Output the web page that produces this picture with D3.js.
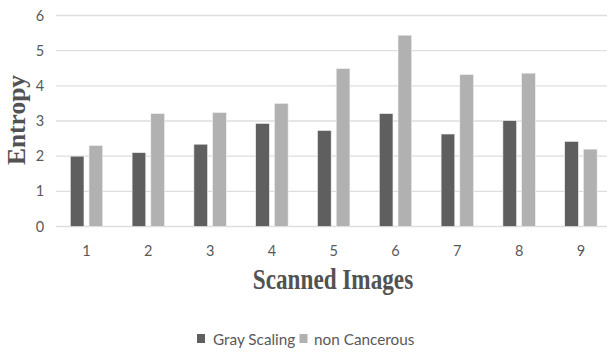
<!DOCTYPE html>
<html>
<head>
<meta charset="utf-8">
<script src="https://cdn.jsdelivr.net/npm/d3@7"></script>
<style>
  html, body { margin: 0; padding: 0; background: #fff; }
  svg { display: block; }
</style>
</head>
<body>
<div id="chart"></div>
<script>
const categories = ["1", "2", "3", "4", "5", "6", "7", "8", "9"];
const seriesNames = ["Gray Scaling", "non Cancerous"];
const grayScaling = [2.0, 2.1, 2.34, 2.93, 2.73, 3.21, 2.63, 3.01, 2.42];
const nonCancerous = [2.3, 3.21, 3.24, 3.5, 4.49, 5.44, 4.32, 4.36, 2.2];
const yTicks = [0, 1, 2, 3, 4, 5, 6];
const colors = ["#5f5f5f", "#b1b1b1"];

const width = 607, height = 354;
const svg = d3.select("#chart").append("svg")
    .attr("width", width).attr("height", height);

const x = d3.scaleBand().domain(categories).range([55.6, 611.8]);
const x1 = d3.scaleBand().domain(seriesNames)
    .range([x.bandwidth() / 2 - 16.2, x.bandwidth() / 2 + 16.2])
    .paddingInner(0.27);
const y = d3.scaleLinear().domain([0, 6]).range([226.5, 15.5]);

// gridlines
svg.append("g").selectAll("line").data(yTicks).join("line")
    .attr("x1", 56).attr("x2", 607)
    .attr("y1", d => y(d)).attr("y2", d => y(d))
    .style("stroke", "#dedede").style("stroke-width", 1.3);

// y tick labels
svg.append("g").selectAll("text").data(yTicks).join("text")
    .attr("x", 40).attr("y", d => y(d) + 5)
    .attr("text-anchor", "middle")
    .style("font-family", "Lato, sans-serif").style("font-size", "14.5px")
    .style("fill", "#595959")
    .text(d => d);

// bars
const rows = categories.map((c, i) => ({ cat: c, vals: [grayScaling[i], nonCancerous[i]] }));
const groups = svg.append("g").selectAll("g").data(rows).join("g")
    .attr("transform", d => `translate(${x(d.cat)},0)`);
groups.selectAll("rect").data(d => d.vals.map((v, j) => ({ s: seriesNames[j], v, j })))
    .join("rect")
    .attr("x", d => x1(d.s)).attr("width", x1.bandwidth())
    .attr("y", d => y(d.v)).attr("height", d => y(0) - y(d.v))
    .style("fill", d => colors[d.j])
    .style("stroke", "#f0f0f0").style("stroke-width", 0.6);

// x tick labels
svg.append("g").selectAll("text").data(categories).join("text")
    .attr("x", d => x(d) + x.bandwidth() / 2).attr("y", 255.5)
    .attr("text-anchor", "middle")
    .style("font-family", "Lato, sans-serif").style("font-size", "14.5px")
    .style("fill", "#595959")
    .text(d => d);

// axis titles
svg.append("text")
    .attr("transform", "translate(333,289) scale(0.76,1)")
    .attr("text-anchor", "middle")
    .style("font-family", "'Liberation Serif', serif").style("font-weight", "bold")
    .style("font-size", "30.5px").style("fill", "#525252")
    .text("Scanned Images");

svg.append("text")
    .attr("transform", "translate(24.5,120) rotate(-90)")
    .attr("text-anchor", "middle")
    .style("font-family", "'Liberation Serif', serif").style("font-weight", "bold")
    .style("font-size", "25.5px").style("fill", "#525252")
    .text("Entropy");

// legend
const legendItems = [
    { name: seriesNames[0], color: colors[0], sx: 197, tx: 213 },
    { name: seriesNames[1], color: colors[1], sx: 299.5, tx: 314 }
];
const lg = svg.append("g");
legendItems.forEach(it => {
    lg.append("rect").attr("x", it.sx).attr("y", 334).attr("width", 8).attr("height", 9)
        .style("fill", it.color);
    lg.append("text").attr("x", it.tx).attr("y", 344.5)
        .style("font-family", "Lato, sans-serif").style("font-size", "15.3px")
        .style("fill", "#595959")
        .text(it.name);
});
</script>
</body>
</html>
